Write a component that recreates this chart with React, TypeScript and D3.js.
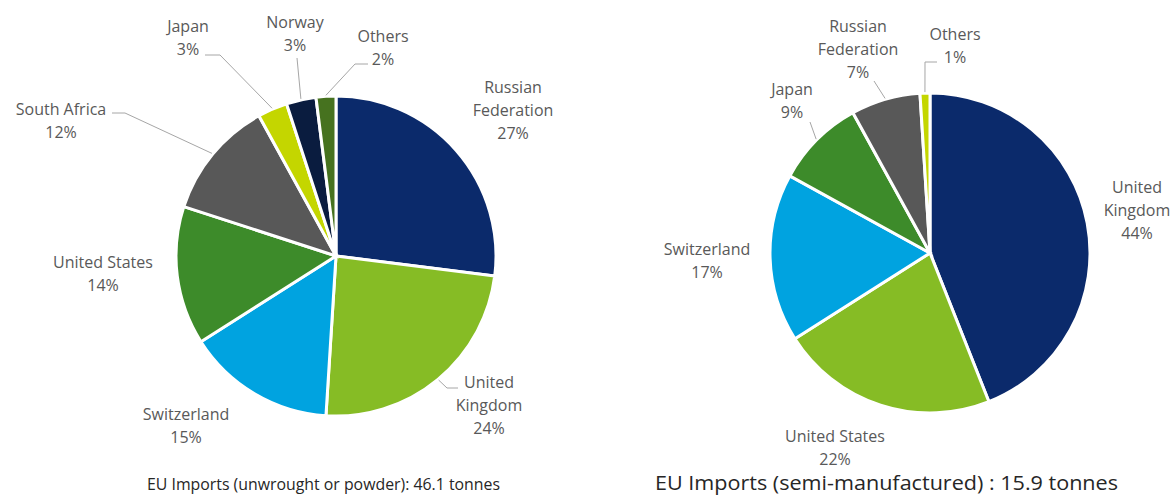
import React from "react";
import * as d3 from "d3";

// ---- Data ----
const leftCategories = ["Russian Federation", "United Kingdom", "Switzerland", "United States", "South Africa", "Japan", "Norway", "Others"];
const leftValues = [27, 24, 15, 14, 12, 3, 3, 2];
const leftTitle = "EU Imports (unwrought or powder): 46.1 tonnes";

const rightCategories = ["United Kingdom", "United States", "Switzerland", "Japan", "Russian Federation", "Others"];
const rightValues = [44, 22, 17, 9, 7, 1];
const rightTitle = "EU Imports (semi-manufactured) : 15.9 tonnes";

// ---- Styles ----
const leftColors = ["#0b2a6b", "#86bc25", "#00a3e0", "#3d8b2a", "#585858", "#c4d600", "#0a1c3f", "#46721f"];
const rightColors = ["#0b2a6b", "#86bc25", "#00a3e0", "#3d8b2a", "#585858", "#c4d600"];

// label layout: center x, first baseline y, text lines (name part); leader: elbow/end points
type LabelLayout = { x: number; y: number; lines: string[]; leader: [number, number][] | null };

const leftLabels: LabelLayout[] = [
  { x: 513, y: 93, lines: ["Russian", "Federation"], leader: null },
  { x: 489, y: 388, lines: ["United", "Kingdom"], leader: [[447, 388], [458, 388]] },
  { x: 186, y: 420, lines: ["Switzerland"], leader: null },
  { x: 103, y: 268, lines: ["United States"], leader: null },
  { x: 61, y: 115, lines: ["South Africa"], leader: [[125, 113], [112, 113]] },
  { x: 188, y: 32, lines: ["Japan"], leader: [[220, 55], [205, 55]] },
  { x: 295, y: 28, lines: ["Norway"], leader: [[297, 58]] },
  { x: 383, y: 42, lines: ["Others"], leader: [[355, 64], [368, 64]] },
];

const rightLabels: LabelLayout[] = [
  { x: 1137, y: 193, lines: ["United", "Kingdom"], leader: null },
  { x: 835, y: 442, lines: ["United States"], leader: null },
  { x: 707, y: 255, lines: ["Switzerland"], leader: null },
  { x: 792, y: 95, lines: ["Japan"], leader: [[810, 122]] },
  { x: 858, y: 32, lines: ["Russian", "Federation"], leader: [[874, 81]] },
  { x: 955, y: 40, lines: ["Others"], leader: [[925, 62], [937, 62]] },
];

const LINE_H = 23;
const LABEL_FONT = "'Open Sans', 'DejaVu Sans', sans-serif";

function Pie({ cx, cy, r, values, colors, labels }: { cx: number; cy: number; r: number; values: number[]; colors: string[]; labels: LabelLayout[] }) {
  const pie = d3.pie<number>().sort(null).value((d) => d).startAngle(0).endAngle(2 * Math.PI);
  const arcs = pie(values);
  const arc = d3.arc<d3.PieArcDatum<number>>().innerRadius(0).outerRadius(r);
  const edge = d3.arc<d3.PieArcDatum<number>>().innerRadius(r + 1).outerRadius(r + 1);
  return (
    <g>
      <g transform={`translate(${cx},${cy})`}>
        {arcs.map((a, i) => (
          <path key={i} d={arc(a) || ""} fill={colors[i]} stroke="#ffffff" strokeWidth={3} strokeLinejoin="miter" />
        ))}
      </g>
      {arcs.map((a, i) => {
        const L = labels[i];
        if (!L.leader) return null;
        const [ex, ey] = edge.centroid(a);
        const pts: [number, number][] = [[cx + ex, cy + ey], ...L.leader];
        return <path key={"l" + i} d={d3.line()(pts) || ""} fill="none" stroke="#a6a6a6" strokeWidth={1} />;
      })}
      {arcs.map((a, i) => {
        const L = labels[i];
        const lines = [...L.lines, `${values[i]}%`];
        return (
          <text key={"t" + i} x={L.x} y={L.y} textAnchor="middle" fontFamily={LABEL_FONT} fontSize={16} fill="#595959">
            {lines.map((s, j) => (
              <tspan key={j} x={L.x} dy={j === 0 ? 0 : LINE_H}>{s}</tspan>
            ))}
          </text>
        );
      })}
    </g>
  );
}

export default function App() {
  return (
    <svg width={1176} height={495} style={{ position: "absolute", left: 0, top: 0, background: "#ffffff" }}>
      <rect width={1176} height={495} fill="#ffffff" />
      <Pie cx={336} cy={256} r={160} values={leftValues} colors={leftColors} labels={leftLabels} />
      <Pie cx={930} cy={253} r={160} values={rightValues} colors={rightColors} labels={rightLabels} />
      <text x={147} y={490} fontFamily={LABEL_FONT} fontSize={17} fill="#262626" textLength={353} lengthAdjust="spacingAndGlyphs">{leftTitle}</text>
      <text x={655} y={490} fontFamily={LABEL_FONT} fontSize={19.5} fill="#262626" textLength={463} lengthAdjust="spacingAndGlyphs">{rightTitle}</text>
    </svg>
  );
}
